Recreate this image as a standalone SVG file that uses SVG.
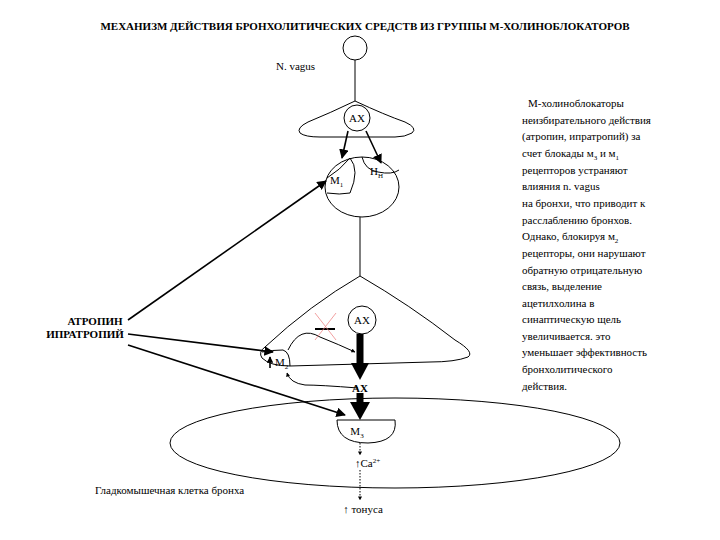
<svg xmlns="http://www.w3.org/2000/svg" width="720" height="540" viewBox="0 0 720 540">
<style>
text{font-size:11px;fill:#000}
.s{fill:none;stroke:#000;stroke-width:1}
.a{fill:none;stroke:#000;stroke-width:1.6}
.b{font-weight:bold}
</style>
<defs>
<marker id="m" viewBox="0 0 10 10" refX="9" refY="5" markerWidth="6" markerHeight="6" orient="auto"><path d="M0,0L10,5L0,10z"/></marker>
<marker id="ms" viewBox="0 0 10 10" refX="9" refY="5" markerWidth="4" markerHeight="4" orient="auto"><path d="M0,0L10,5L0,10z"/></marker>
</defs>
<rect width="720" height="540" fill="#fff"/>
<g font-family="Liberation Serif, DejaVu Serif, serif">
<text x="365" y="30" text-anchor="middle" class="b" font-size="10.5">МЕХАНИЗМ ДЕЙСТВИЯ БРОНХОЛИТИЧЕСКИХ СРЕДСТВ ИЗ ГРУППЫ М-ХОЛИНОБЛОКАТОРОВ</text>
<g id="vagus">
<circle cx="355" cy="48" r="12" class="s"/>
<line x1="355" y1="60" x2="355" y2="101" class="s"/>
<text x="276" y="70">N. vagus</text>
</g>
<g id="ganglion1">
<path d="M355,101 Q385,115 405,122 Q418,128 412,133 Q405,137 395,137 L320,137 Q305,137 300,133 Q296,128 308,122 Q330,113 355,101 Z" class="s" fill="#fff"/>
<circle cx="357" cy="118" r="13" class="s" fill="#fff"/>
<text x="357" y="122" text-anchor="middle">AX</text>
</g>
<g id="cell1">
<ellipse cx="362" cy="187" rx="37" ry="30" class="s"/>
<path d="M327,178 Q340,170 350,158 Q360,170 350,193 Q340,195 327,193" class="s"/>
<path d="M362,157 Q365,170 378,172 Q392,175 399,170" class="s"/>
<text x="330" y="184">M<tspan font-size="7" dy="3">1</tspan></text>
<text x="370" y="175">H<tspan font-size="7" dy="3">Н</tspan></text>
<line x1="360" y1="217" x2="360" y2="276" class="s"/>
</g>
<g id="ganglion2">
<path d="M360,276 Q410,305 455,340 Q475,352 468,357 Q455,362 430,362 L290,366 Q270,366 262,358 Q258,352 265,347 Q310,305 360,276 Z" class="s" fill="#fff"/>
<circle cx="362" cy="320" r="14" class="s" fill="#fff"/>
<text x="362" y="324" text-anchor="middle">AX</text>
<path d="M262,352 Q272,350 283,350 Q290,352 290,366" class="s"/>
<text x="275" y="366">M<tspan font-size="7" dy="3">2</tspan></text>
<line x1="270" y1="368" x2="270" y2="357" class="a" marker-end="url(#ms)"/>
</g>
<g id="cell2">
<ellipse cx="395" cy="443" rx="225" ry="45" class="s"/>
<path d="M337,420 L395,420 Q398,442 368,443 Q337,443 337,420 Z" class="s" fill="#fff"/>
<text x="357" y="435" text-anchor="middle">M<tspan font-size="7" dy="3">3</tspan></text>
<text x="355" y="467">↑Ca<tspan font-size="7" dy="-4">2+</tspan></text>
<text x="363" y="513" text-anchor="middle">↑ тонуса</text>
<text x="95" y="494">Гладкомышечная клетка бронха</text>
</g>
<g id="drugs">
<text x="95" y="325" text-anchor="middle" class="b">АТРОПИН</text>
<text x="85" y="338" text-anchor="middle" class="b">ИПРАТРОПИЙ</text>
</g>
<g id="desc" font-size="11.5">
<text x="528" y="107">М-холиноблокаторы</text>
<text x="522" y="124">неизбирательного действия</text>
<text x="522" y="140">(атропин, ипратропий) за</text>
<text x="522" y="157">счет блокады м<tspan font-size="7" dy="3">3</tspan><tspan dy="-3"> и м</tspan><tspan font-size="7" dy="3">1</tspan></text>
<text x="522" y="174">рецепторов устраняют</text>
<text x="522" y="190">влияния n. vagus</text>
<text x="522" y="207">на бронхи, что приводит к</text>
<text x="522" y="224">расслаблению бронхов.</text>
<text x="522" y="240">Однако, блокируя м<tspan font-size="7" dy="3">2</tspan></text>
<text x="522" y="257">рецепторы, они нарушают</text>
<text x="522" y="274">обратную отрицательную</text>
<text x="522" y="290">связь, выделение</text>
<text x="522" y="307">ацетилхолина в</text>
<text x="522" y="323">синаптическую щель</text>
<text x="522" y="340">увеличивается. это</text>
<text x="522" y="356">уменьшает эффективность</text>
<text x="522" y="373">бронхолитического</text>
<text x="522" y="390">действия.</text>
</g>
<g id="connectors">
<line x1="348" y1="131" x2="342" y2="158" class="a" marker-end="url(#m)"/>
<line x1="366" y1="131" x2="381" y2="163" class="a" marker-end="url(#m)"/>
<line x1="128" y1="320" x2="326" y2="181" class="a" marker-end="url(#m)"/>
<line x1="128" y1="334" x2="273" y2="352" class="a" marker-end="url(#m)"/>
<line x1="128" y1="345" x2="345" y2="415" class="a" marker-end="url(#m)"/>
<path d="M288,350 Q300,325 320,337 Q340,345 355,352" class="s" marker-end="url(#ms)"/>
<line x1="315" y1="329" x2="335" y2="329" stroke="#000" stroke-width="2"/>
<line x1="315" y1="340" x2="336" y2="313" stroke="#e88" stroke-width="0.8"/>
<line x1="315" y1="313" x2="336" y2="340" stroke="#e88" stroke-width="0.8"/>
<path d="M358,388 Q320,385 305,385 Q290,383 287,373" class="s" marker-end="url(#ms)"/>
<line x1="360" y1="334" x2="360" y2="365" stroke="#000" stroke-width="7"/>
<path d="M351,363 L369,363 L360,380 Z"/>
<line x1="360" y1="393" x2="360" y2="405" stroke="#000" stroke-width="7"/>
<path d="M350,402 L370,402 L360,420 Z"/>
<text x="360" y="392" text-anchor="middle" class="b">AX</text>
<line x1="360" y1="443" x2="360" y2="455" stroke="#000" stroke-dasharray="1.5,1.5" marker-end="url(#ms)"/>
<line x1="360" y1="470" x2="360" y2="500" stroke="#000" stroke-dasharray="1.5,1.5" marker-end="url(#ms)"/>
</g>
</g>
</svg>
